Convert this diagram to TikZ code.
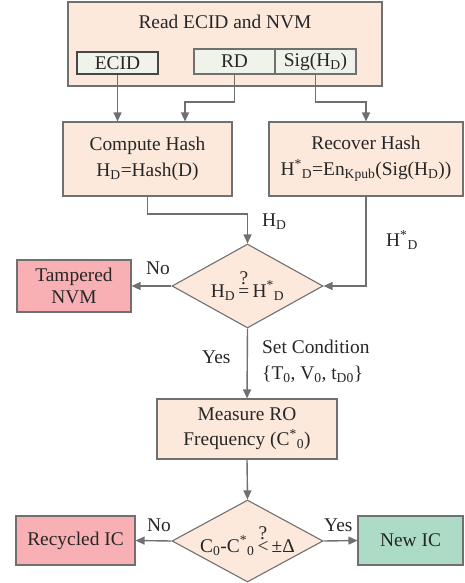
\documentclass[tikz,border=0pt]{standalone}
\usepackage{fontspec}
\setmainfont{Liberation Serif}
\usetikzlibrary{arrows.meta,shapes.geometric}
\definecolor{peach}{HTML}{FCE9DC}
\definecolor{paleg}{HTML}{EFF3E9}
\definecolor{alarm}{HTML}{F8B0B5}
\definecolor{okgreen}{HTML}{ACDBC6}
\definecolor{edge}{HTML}{707070}
\definecolor{ink}{HTML}{262626}
\newcommand{\Hd}{H\textsubscript{D}}
\newcommand{\Hs}{H\textsuperscript{*}\textsubscript{D}}
% a relation sign with a question mark set above it
\newcommand{\qrel}[1]{\setbox0\hbox{#1}\rlap{\hbox to\wd0{\hss\raisebox{0.62em}{?}\hss}}\box0}
\begin{document}
\begin{tikzpicture}[x=1pt,y=-1pt,
  font=\fontsize{19.4}{26}\selectfont, text=ink,
  procbox/.style={draw=edge, line width=1.1pt, fill=peach, inner sep=0pt, align=center},
  fieldbox/.style={draw=edge, line width=1.1pt, fill=paleg, inner sep=0pt,
                   minimum width=81pt},
  badbox/.style={procbox, fill=alarm},
  goodbox/.style={procbox, fill=okgreen},
  decision/.style={diamond, draw=edge, line width=1.1pt, fill=peach, inner sep=0pt,
                   minimum width=151pt},
  flow/.style={draw=edge, line width=1.4pt, -{Triangle[length=9pt,width=8pt]}},
  lbl/.style={inner sep=0pt, anchor=west}]
\useasboundingbox (0,0) rectangle (464,583);

% reading stage
\node[procbox, minimum width=314pt, minimum height=84pt] (read) at (225,44) {};
\node[inner sep=0pt] (readtxt) at (225,22) {Read ECID and NVM};
\node[fieldbox, draw=ink!85, minimum height=22pt] (ecid) at (117.5,63) {ECID};
\node[fieldbox, minimum height=25pt] (rd) at (234.5,61.5) {RD};
\node[fieldbox, minimum height=25pt] (sig) at (315.5,61.5) {Sig(\Hd)};

% hash computation
\node[procbox, minimum width=169pt, minimum height=74pt] (comp) at (147.5,159)
  {Compute Hash\\\Hd=Hash(D)};
\node[procbox, minimum width=194pt, minimum height=74pt] (rec) at (366,159)
  {Recover Hash\\\Hs=En\textsubscript{Kpub}(Sig(\Hd))};

% first check
\node[decision, minimum height=84pt] (d1) at (247.5,286) {};
\node[inner sep=0pt, anchor=base] (d1txt) at (247.5,297) {\Hd\,\qrel{=}\,\Hs};
\node[badbox, minimum width=114pt, minimum height=52pt, font=\fontsize{19.4}{22}\selectfont]
  (tamp) at (74,286) {Tampered\\NVM};

% measurement
\node[procbox, minimum width=180pt, minimum height=60pt, font=\fontsize{19.4}{25}\selectfont]
  (meas) at (247,429) {Measure RO\\Frequency (C\textsuperscript{*}\textsubscript{0})};

% second check
\node[decision, minimum height=82pt] (d2) at (247.5,541) {};
\node[inner sep=0pt, anchor=base] (d2txt) at (247.5,552)
  {C\textsubscript{0}-C\textsuperscript{*}\textsubscript{0}\,\qrel{<}\,±Δ};
\node[badbox, minimum width=119pt, minimum height=49pt] (recyc) at (75.5,540.5) {Recycled IC};
\node[goodbox, minimum width=105pt, minimum height=49pt] (newic) at (410.5,540.5) {New IC};

% connectors
\coordinate (fbend) at (185,102);
\coordinate (hbend) at (0,214);
\draw[flow] (ecid.south) -- (ecid.south |- comp.north);
\draw[flow] (rd.south) |- (fbend) -- (fbend |- comp.north);
\draw[flow] (sig.south) -- (sig.south |- fbend) -| (rec.north);
\draw[flow] (comp.south) -- (comp.south |- hbend) -| (d1.north);
\draw[flow] (rec.south) |- (d1.east);
\draw[flow] (d1.west) -- (tamp.east);
\draw[flow] (d1.south) -- (meas.north);
\draw[flow] (meas.south) -- (d2.north);
\draw[flow] (d2.west) -- (recyc.east);
\draw[flow] (d2.east) -- (newic.west);

% connector labels
\node[lbl] (lhd) at (262,222) {\Hd};
\node[lbl] (lhs) at (386,240) {\Hs};
\node[lbl] (lno1) at (146,268) {No};
\node[lbl] (lyes1) at (202,357) {Yes};
\node[lbl, align=left, anchor=north west] (lcond) at (262,340)
  {Set Condition\\\{T\textsubscript{0}, V\textsubscript{0}, t\textsubscript{D0}\}};
\node[lbl] (lno2) at (147,525) {No};
\node[lbl] (lyes2) at (324,525) {Yes};
\end{tikzpicture}
\end{document}
